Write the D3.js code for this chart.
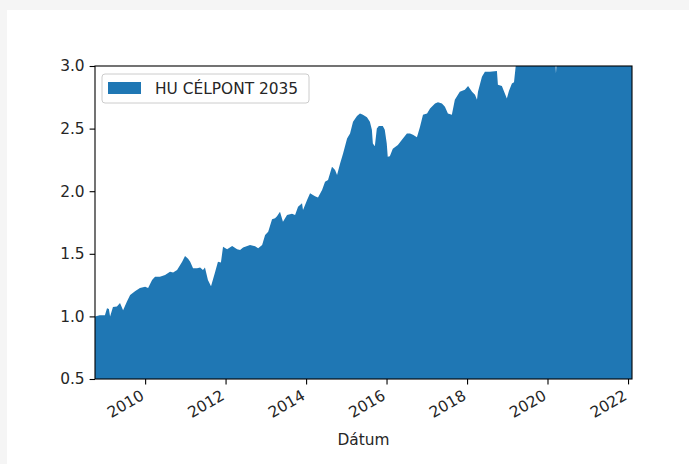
<!DOCTYPE html>
<html>
<head>
<meta charset="utf-8">
<script src="https://cdn.jsdelivr.net/npm/d3@7"></script>
<style>
  body { margin: 0; background: #f5f5f5; }
  #chart { position: absolute; left: 7px; top: 10px; width: 682px; height: 454px; background: #fff; }
  text { font-family: "DejaVu Sans", sans-serif; fill: #262626; }
</style>
</head>
<body>
<div id="chart"></div>
<script>
const dates = [
  "2008-10-03", "2008-11-15", "2009-01-01", "2009-01-20", "2009-02-06", "2009-02-17", "2009-03-15",
  "2009-04-20", "2009-05-18", "2009-06-15", "2009-07-20", "2009-08-18", "2009-10-01", "2009-11-15",
  "2010-01-01", "2010-01-28", "2010-03-05", "2010-04-01", "2010-05-15", "2010-07-01", "2010-08-15",
  "2010-09-12", "2010-10-18", "2010-12-03", "2010-12-29", "2011-01-26", "2011-02-14", "2011-03-12",
  "2011-04-17", "2011-05-15", "2011-06-10", "2011-06-28", "2011-07-25", "2011-08-22", "2011-09-27",
  "2011-10-24", "2011-11-20", "2011-12-09", "2012-01-15", "2012-03-01", "2012-04-15", "2012-05-12",
  "2012-06-08", "2012-08-10", "2012-09-25", "2012-10-23", "2012-11-28", "2012-12-25", "2013-01-22",
  "2013-02-26", "2013-03-25", "2013-04-12", "2013-05-09", "2013-06-05", "2013-07-12", "2013-08-26",
  "2013-09-23", "2013-10-20", "2013-11-25", "2013-12-04", "2014-01-10", "2014-02-06", "2014-03-23",
  "2014-04-19", "2014-05-26", "2014-06-22", "2014-07-19", "2014-08-24", "2014-09-21", "2014-10-09",
  "2014-11-05", "2014-12-02", "2015-01-08", "2015-02-04", "2015-03-03", "2015-04-08", "2015-05-05",
  "2015-06-01", "2015-07-07", "2015-08-03", "2015-08-21", "2015-08-30", "2015-09-17", "2015-10-05",
  "2015-10-23", "2015-11-28", "2015-12-16", "2016-01-03", "2016-01-12", "2016-01-31", "2016-02-27",
  "2016-04-13", "2016-05-20", "2016-07-04", "2016-08-01", "2016-08-28", "2016-10-03", "2016-10-31",
  "2016-11-27", "2017-01-03", "2017-01-30", "2017-03-16", "2017-04-12", "2017-05-18", "2017-06-14",
  "2017-07-11", "2017-08-16", "2017-09-12", "2017-10-27", "2017-12-12", "2018-01-10", "2018-02-15",
  "2018-03-14", "2018-04-01", "2018-04-10", "2018-05-16", "2018-06-12", "2018-07-27", "2018-09-29",
  "2018-10-08", "2018-11-13", "2018-12-10", "2018-12-28", "2019-01-16", "2019-02-12", "2019-03-03",
  "2019-03-21", "2019-05-01", "2019-07-15", "2019-10-01", "2020-01-15", "2020-03-01", "2020-03-08",
  "2020-03-18", "2020-03-28", "2020-04-08", "2020-05-15", "2020-08-01", "2020-11-15", "2021-03-01",
  "2021-07-01", "2021-11-01", "2022-02-06"
];
const values = [
  1.0, 1.01, 1.01, 1.065, 1.06, 1.0, 1.075,
  1.08, 1.107, 1.05, 1.12, 1.17, 1.2, 1.227,
  1.237, 1.227, 1.29, 1.317, 1.317, 1.33, 1.357,
  1.35, 1.37, 1.437, 1.482, 1.46, 1.437, 1.384,
  1.384, 1.39, 1.37, 1.39, 1.29, 1.24, 1.35,
  1.437, 1.43, 1.557, 1.536, 1.562, 1.536, 1.53,
  1.55, 1.57, 1.56, 1.545, 1.57, 1.65, 1.677,
  1.776, 1.784, 1.8, 1.836, 1.756, 1.81, 1.82,
  1.81, 1.876, 1.903, 1.85, 1.93, 1.983, 1.96,
  1.95, 2.01, 2.076, 2.09, 2.196, 2.17, 2.13,
  2.22, 2.3, 2.42, 2.46, 2.555, 2.6, 2.62,
  2.61, 2.59, 2.555, 2.49, 2.38, 2.36, 2.5,
  2.52, 2.52, 2.49, 2.38, 2.276, 2.28, 2.34,
  2.37, 2.41, 2.46, 2.46, 2.45, 2.43, 2.515,
  2.61, 2.62, 2.66, 2.7, 2.71, 2.7, 2.675,
  2.62, 2.61, 2.73, 2.795, 2.81, 2.84, 2.795,
  2.77, 2.73, 2.795, 2.915, 2.955, 2.955, 2.96,
  2.85, 2.84, 2.78, 2.74, 2.8, 2.86, 2.87,
  3.02, 3.08, 3.15, 3.2, 3.3, 3.3, 3.1,
  2.94, 3.1, 3.15, 3.2, 3.3, 3.4, 3.55,
  3.75, 3.9, 3.85
];
const seriesName = "HU CÉLPONT 2035";
const yTicks = [0.5, 1.0, 1.5, 2.0, 2.5, 3.0];
const xTickYears = [2010, 2012, 2014, 2016, 2018, 2020, 2022];
const xLabel = "Dátum";

const parseDate = d3.timeParse("%Y-%m-%d");
const data = dates.map((d, i) => ({ date: parseDate(d), value: values[i] }));

const W = 682, H = 454;
const m = { left: 88, right: 57, top: 56, bottom: 85 };
const fs = 15.4;
const blue = "#1f77b4";

const svg = d3.select("#chart").append("svg").attr("width", W).attr("height", H);

const x = d3.scaleTime()
  .domain(d3.extent(data, (d) => d.date))
  .range([m.left, W - m.right]);
const y = d3.scaleLinear().domain([0.5, 3.0]).range([H - m.bottom, m.top]);

svg.append("clipPath").attr("id", "clip")
  .append("rect")
  .attr("x", m.left).attr("y", m.top)
  .attr("width", W - m.left - m.right).attr("height", H - m.top - m.bottom);

const plot = svg.append("g").attr("clip-path", "url(#clip)");

plot.append("path")
  .datum(data)
  .attr("fill", blue)
  .attr("d", d3.area().x((d) => x(d.date)).y0(y(0)).y1((d) => y(d.value)));

// y axis
const yAxis = svg.append("g")
  .attr("transform", `translate(${m.left},0)`)
  .call(d3.axisLeft(y).tickValues(yTicks).tickFormat(d3.format(".1f")).tickSize(5.4).tickPadding(5));
yAxis.select(".domain").remove();
yAxis.selectAll("line").attr("stroke", "#000").attr("stroke-width", 1.1);
yAxis.selectAll("text").attr("font-size", fs).attr("font-family", "DejaVu Sans").attr("fill", "#262626");

// x axis
const xTicks = xTickYears.map((yr) => new Date(yr, 0, 1));
const xAxis = svg.append("g")
  .attr("transform", `translate(0,${H - m.bottom})`)
  .call(d3.axisBottom(x).tickValues(xTicks).tickFormat(d3.timeFormat("%Y")).tickSize(5.4));
xAxis.select(".domain").remove();
xAxis.selectAll("line").attr("stroke", "#000").attr("stroke-width", 1.1);
xAxis.selectAll("text")
  .attr("font-size", fs)
  .attr("font-family", "DejaVu Sans")
  .attr("fill", "#262626")
  .attr("text-anchor", "end")
  .attr("y", 0)
  .attr("dy", "0.72em")
  .attr("transform", "translate(-6,10) rotate(-30)");

svg.append("text")
  .attr("x", (m.left + W - m.right) / 2)
  .attr("y", 435)
  .attr("text-anchor", "middle")
  .attr("font-size", fs)
  .text(xLabel);

// frame
svg.append("rect")
  .attr("x", m.left).attr("y", m.top)
  .attr("width", W - m.left - m.right).attr("height", H - m.top - m.bottom)
  .attr("fill", "none").attr("stroke", "#000").attr("stroke-width", 1.1);

// legend
const legend = svg.append("g").attr("transform", `translate(${m.left + 7},${m.top + 8})`);
legend.append("rect")
  .attr("width", 207).attr("height", 29).attr("rx", 3)
  .attr("fill", "#fff").attr("fill-opacity", 0.8)
  .attr("stroke", "#ccc").attr("stroke-width", 1);
legend.append("rect")
  .attr("x", 6).attr("y", 8).attr("width", 33).attr("height", 12)
  .attr("fill", blue);
legend.append("text")
  .attr("x", 53).attr("y", 20)
  .attr("font-size", fs)
  .text(seriesName);
</script>
</body>
</html>
